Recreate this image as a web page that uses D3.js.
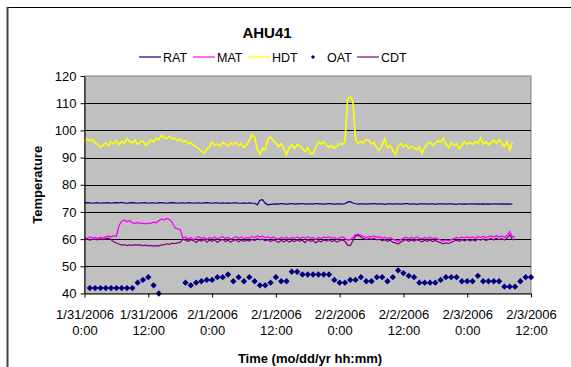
<!DOCTYPE html>
<html>
<head>
<meta charset="utf-8">
<script src="https://cdn.jsdelivr.net/npm/d3@7"></script>
<style>
  body { margin: 0; background: #fff; }
  svg { display: block; font-family: Arial, "Liberation Sans", sans-serif; }
</style>
</head>
<body>
<div id="chart"></div>
<script>
// readings every half hour starting 1/31/2006 0:00
const startTime = new Date(2006, 0, 31, 0, 0);
const stepHours = 0.5;

const ratValues = [
  73.3, 73.4, 73.3, 73.2, 73.3, 73.4, 73.2, 73.3, 73.3, 73.4, 73.2, 73.3, 73.4, 73.3, 73.5, 73.3,
  73.2, 73.3, 73.4, 73.3, 73.2, 73.3, 73.3, 73.4, 73.2, 73.3, 73.3, 73.2, 73.4, 73.3, 73.3, 73.2,
  73.3, 73.4, 73.3, 73.2, 73.3, 73.3, 73.2, 73.4, 73.3, 73.2, 73.3, 73.3, 73.2, 73.3, 73.4, 73.3,
  73.2, 73.3, 73.3, 73.2, 73.3, 73.2, 73.3, 73.2, 73.3, 73.3, 73.2, 73.2, 73.3, 73.2, 73.3, 73.2,
  73.2, 72.6, 74.3, 74.5, 73.2, 72.6, 72.8, 72.9, 73.0, 72.9, 73.1, 73.0, 72.9, 73.0, 73.1, 72.9,
  73.0, 73.0, 73.1, 72.9, 73.0, 73.0, 72.9, 73.1, 73.0, 73.0, 72.9, 73.0, 73.1, 73.0, 72.9, 73.0,
  73.0, 72.9, 73.0, 73.6, 73.8, 73.3, 73.0, 72.9, 73.0, 73.0, 72.9, 73.0, 73.0, 73.1, 72.9, 73.0,
  73.0, 72.8, 73.0, 73.0, 72.9, 73.0, 73.0, 72.9, 73.0, 73.1, 73.0, 72.9, 73.0, 72.8, 73.0, 73.0,
  73.0, 72.9, 73.0, 73.0, 72.8, 73.0, 73.0, 73.0, 72.9, 73.0, 73.0, 72.9, 72.8, 73.0, 72.9, 73.0,
  72.9, 73.0, 73.0, 72.9, 73.0, 72.9, 73.0, 72.9, 73.0, 72.9, 73.0, 73.0, 72.9, 73.0, 72.9, 73.0,
  72.9, 72.9
];

const matValues = [
  60.6, 60.2, 60.8, 60.4, 60.6, 60.2, 60.7, 60.4, 60.9, 61.2, 60.8, 61.3, 61.0, 65.0, 66.6, 67.0,
  66.4, 66.8, 66.0, 65.8, 66.1, 65.7, 65.9, 65.6, 65.9, 65.8, 66.2, 66.0, 66.8, 67.4, 67.0, 67.6,
  67.2, 66.2, 64.2, 63.8, 63.6, 60.4, 60.8, 60.0, 60.6, 59.8, 60.5, 60.9, 60.2, 60.7, 59.9, 60.6,
  60.3, 60.8, 60.1, 60.6, 60.9, 60.2, 60.7, 60.0, 60.5, 60.9, 60.3, 60.8, 60.2, 60.6, 60.4, 61.0,
  60.6, 61.2, 60.8, 61.1, 60.5, 60.9, 60.3, 60.8, 60.4, 60.0, 60.6, 60.2, 60.7, 60.1, 60.6, 60.3,
  60.8, 60.2, 60.7, 60.4, 60.9, 60.3, 60.6, 59.9, 60.6, 60.2, 60.8, 60.5, 60.9, 60.3, 60.6, 60.0,
  60.5, 60.8, 60.4, 59.6, 59.8, 60.6, 61.6, 61.8, 61.4, 61.0, 60.6, 61.0, 60.8, 61.2, 60.7, 60.9,
  60.4, 60.7, 60.2, 60.6, 60.0, 59.6, 59.2, 59.8, 60.4, 60.7, 60.2, 60.6, 60.3, 60.8, 60.4, 60.1,
  60.6, 60.3, 60.7, 60.2, 60.5, 60.0, 59.6, 59.3, 59.7, 59.4, 59.8, 60.2, 60.6, 60.3, 60.8, 60.4,
  60.9, 60.5, 60.8, 60.3, 61.0, 60.6, 61.1, 60.5, 60.9, 61.2, 60.7, 61.3, 60.8, 61.2, 60.7, 61.4,
  62.8, 60.8, 60.9
];

const hdtValues = [
  96.0, 96.8, 96.2, 96.6, 95.6, 94.8, 93.8, 94.6, 95.4, 94.4, 95.8, 95.0, 96.2, 94.6, 96.0, 95.2,
  97.0, 96.0, 95.4, 96.4, 94.8, 95.8, 96.0, 94.6, 95.2, 96.4, 95.8, 97.2, 96.6, 98.2, 97.4, 97.0,
  97.8, 96.8, 97.2, 96.2, 96.8, 95.8, 96.2, 95.0, 95.6, 94.4, 94.0, 93.2, 92.4, 91.6, 93.0, 94.0,
  95.6, 94.6, 95.0, 94.2, 95.6, 95.0, 94.2, 95.4, 94.8, 95.6, 94.4, 95.2, 93.8, 94.6, 96.2, 98.4,
  97.6, 93.0, 91.2, 93.4, 92.8, 96.8, 97.6, 96.2, 95.4, 94.0, 95.2, 93.2, 91.0, 93.6, 94.6, 93.4,
  94.8, 94.2, 93.4, 92.2, 93.6, 91.4, 91.6, 93.8, 95.6, 95.0, 95.8, 94.6, 93.8, 94.4, 93.4, 94.2,
  95.2, 94.8, 95.8, 111.6, 112.4, 110.6, 96.6, 95.2, 96.0, 95.4, 96.6, 96.2, 95.0, 95.6, 93.4, 92.8,
  94.6, 96.8, 93.6, 94.4, 92.6, 91.0, 94.2, 95.2, 94.0, 94.6, 93.4, 94.2, 93.6, 92.8, 94.0, 91.6,
  93.8, 95.0, 95.8, 94.4, 95.2, 96.2, 95.6, 97.2, 95.0, 93.6, 95.4, 94.4, 95.0, 93.2, 94.6, 95.8,
  94.8, 95.6, 94.8, 95.8, 95.2, 97.2, 95.0, 95.8, 94.6, 95.6, 96.4, 95.2, 96.6, 95.4, 94.0, 95.8,
  92.8, 95.6
];

const cdtValues = [
  59.8, 60.1, 59.6, 59.9, 60.0, 59.7, 60.1, 59.8, 60.2, 60.4, 59.8, 59.0, 58.6, 58.2, 57.8, 58.0,
  57.6, 57.9, 57.7, 58.0, 57.8, 57.9, 57.6, 57.8, 57.5, 57.7, 57.4, 57.6, 57.5, 57.9, 58.0, 58.3,
  58.1, 58.5, 58.3, 58.6, 58.8, 60.0, 59.6, 59.2, 59.8, 59.4, 58.8, 59.7, 59.3, 59.9, 58.9, 59.6,
  59.2, 59.8, 58.8, 59.5, 59.9, 59.1, 59.6, 58.9, 59.4, 59.8, 59.0, 59.7, 59.2, 59.6, 59.3, 59.9,
  59.5, 60.2, 59.7, 60.0, 59.4, 59.8, 59.1, 59.7, 59.3, 58.8, 59.5, 59.0, 59.6, 58.9, 59.5, 59.1,
  59.7, 59.2, 59.6, 58.7, 59.8, 59.2, 59.5, 58.6, 59.4, 59.0, 59.7, 59.3, 59.8, 59.1, 59.5, 58.9,
  59.4, 59.7, 59.2, 57.8, 57.6, 59.4, 61.2, 61.4, 60.8, 60.2, 59.8, 60.2, 59.9, 60.3, 59.7, 60.0,
  59.4, 59.8, 59.2, 59.6, 58.9, 58.6, 58.2, 58.9, 59.5, 59.8, 59.2, 59.7, 59.3, 59.8, 59.4, 59.0,
  59.6, 59.2, 59.7, 59.1, 59.5, 59.0, 58.7, 58.3, 58.6, 58.4, 58.8, 59.3, 59.6, 59.2, 59.8, 59.4,
  59.9, 59.4, 59.8, 59.3, 60.0, 59.6, 60.1, 59.5, 59.9, 60.2, 59.7, 60.3, 59.8, 60.2, 59.7, 60.4,
  61.6, 59.8, 59.9
];

// outside air temperature, hourly, hours after 1/31/2006 0:00
const oatHours = [
  1, 2, 3, 4, 5, 6, 7, 8, 9, 10, 11, 12, 13, 14,
  19, 20, 21, 22, 23, 24, 25, 26, 27, 28, 29, 30, 31, 32, 33, 34, 35, 36, 37, 38, 39, 40,
  41, 42, 43, 44, 45, 46, 47, 48, 49, 50, 51, 52, 53, 54, 55, 56, 57, 58, 59, 60,
  61, 62, 63, 64, 65, 66, 67, 68, 69, 70, 71, 72, 73, 74, 75, 76, 77, 78, 79, 80,
  81, 82, 83, 84
];
const oatValues = [
  42, 42, 42, 42, 42, 42, 42, 42, 42, 44, 45, 46, 43, 40,
  44, 43, 44, 44.5, 45, 45, 46, 46, 47, 44.5, 46, 44.5, 46, 44.5, 43, 43, 44, 46, 44.5, 44.5, 48, 48,
  47, 47, 47, 47, 47, 47, 45, 44, 44, 45, 45, 46, 44.5, 44.5, 46, 46, 44.5, 46, 48.5, 47.5,
  46.5, 46, 44, 44, 44, 44, 45, 46, 46, 46, 44.5, 44.5, 44.5, 46.5, 44.5, 44.5, 44.5, 44.5, 42.5, 42.5,
  42.5, 44.5, 46, 46
];

const yTicks = [40, 50, 60, 70, 80, 90, 100, 110, 120];
const legendNames = ["RAT", "MAT", "HDT", "OAT", "CDT"];

const width = 571;
const height = 367;
const margin = { top: 76, right: 40, bottom: 73.5, left: 84.5 };

const colors = { RAT: "#000080", MAT: "#FF00FF", HDT: "#FFFF00", OAT: "#000080", CDT: "#800080" };

const hourToDate = h => new Date(startTime.getTime() + h * 3600 * 1000);

const svg = d3.select("#chart")
  .append("svg")
  .attr("width", width)
  .attr("height", height);

svg.append("rect").attr("width", width).attr("height", height).attr("fill", "#fff");

// chart frame (only top and left edges are inside the picture)
svg.append("line").attr("x1", 7).attr("x2", width).attr("y1", 7.5).attr("y2", 7.5)
  .attr("stroke", "#000").attr("stroke-width", 1);
svg.append("line").attr("x1", 7.5).attr("x2", 7.5).attr("y1", 7).attr("y2", height)
  .attr("stroke", "#404040").attr("stroke-width", 2);

const x = d3.scaleTime()
  .domain([startTime, hourToDate(84)])
  .range([margin.left, width - margin.right]);

const y = d3.scaleLinear()
  .domain([40, 120])
  .range([height - margin.bottom, margin.top]);

// plot area
svg.append("rect")
  .attr("x", x.range()[0])
  .attr("y", y(120))
  .attr("width", x.range()[1] - x.range()[0])
  .attr("height", y(40) - y(120))
  .attr("fill", "#C0C0C0")
  .attr("stroke", "#808080")
  .attr("stroke-width", 1);

svg.append("g")
  .selectAll("line")
  .data(yTicks.filter(t => t > 40 && t < 120))
  .join("line")
    .attr("x1", x.range()[0])
    .attr("x2", x.range()[1])
    .attr("y1", d => Math.round(y(d)) + 0.5)
    .attr("y2", d => Math.round(y(d)) + 0.5)
    .attr("stroke", "#000")
    .attr("stroke-width", 1);

// series lines
const lineFor = values => d3.line()
  .x((d, i) => x(hourToDate(i * stepHours)))
  .y(d => y(d))(values);

const series = [
  { name: "RAT", values: ratValues, w: 1.2 },
  { name: "MAT", values: matValues, w: 1.3 },
  { name: "HDT", values: hdtValues, w: 1.6 },
  { name: "CDT", values: cdtValues, w: 1.2 }
];

const drawLine = s => svg.append("path")
  .attr("d", lineFor(s.values))
  .attr("fill", "none")
  .attr("stroke", colors[s.name])
  .attr("stroke-width", s.w)
  .attr("stroke-linejoin", "miter");

drawLine(series[0]);
drawLine(series[1]);
drawLine(series[2]);

const diamond = d3.symbol().type(d3.symbolSquare).size(20);
svg.append("g")
  .selectAll("path")
  .data(oatHours)
  .join("path")
    .attr("d", diamond)
    .attr("transform", (d, i) => `translate(${x(hourToDate(d))},${y(oatValues[i])}) rotate(45)`)
    .attr("fill", colors.OAT);

drawLine(series[3]);

// axes
const fmtDate = d3.timeFormat("%-m/%-d/%Y");
const fmtTime = d3.timeFormat("%-H:%M");

const xAxis = g => {
  g.attr("transform", `translate(0, ${y(40)})`)
    .call(d3.axisBottom(x).ticks(d3.timeHour.every(12)).tickSizeOuter(0).tickSizeInner(4).tickFormat(""))
    .call(g => g.select(".domain").attr("stroke", "#000"));
  g.selectAll(".tick text").remove();
  const t = g.selectAll(".tick").append("text")
    .attr("fill", "#000")
    .attr("text-anchor", "middle")
    .attr("font-size", 13);
  t.append("tspan").attr("x", 0).attr("y", 25).text(d => fmtDate(d));
  t.append("tspan").attr("x", 0).attr("y", 41).text(d => fmtTime(d));
};

const yAxis = g => {
  g.attr("transform", `translate(${x.range()[0]}, 0)`)
    .call(d3.axisLeft(y).tickValues(yTicks).tickSizeOuter(0).tickSizeInner(4).tickPadding(4))
    .attr("font-size", 13)
    .attr("font-family", null);
  g.selectAll(".tick text").attr("fill", "#000");
};

svg.append("g").call(xAxis);
svg.append("g").call(yAxis);

// titles
svg.append("text")
  .attr("x", 267).attr("y", 38)
  .attr("text-anchor", "middle")
  .attr("font-size", 15).attr("font-weight", "bold")
  .text("AHU41");

svg.append("text")
  .attr("transform", `translate(42, ${(y(40) + y(120)) / 2}) rotate(-90)`)
  .attr("text-anchor", "middle")
  .attr("font-size", 13).attr("font-weight", "bold")
  .text("Temperature");

svg.append("text")
  .attr("x", 310).attr("y", 363)
  .attr("text-anchor", "middle")
  .attr("font-size", 13).attr("font-weight", "bold")
  .text("Time (mo/dd/yr hh:mm)");

// legend
const legendX = [139, 193, 248, 310, 357];
const legend = svg.append("g").attr("font-size", 12.5);
legendNames.forEach((name, i) => {
  const g = legend.append("g").attr("transform", `translate(${legendX[i]}, 57)`);
  if (name === "OAT") {
    g.append("path").attr("d", d3.symbol().type(d3.symbolSquare).size(9))
      .attr("transform", "translate(3,0) rotate(45)").attr("fill", colors[name]);
    g.append("text").attr("x", 17).attr("y", 4.5).text(name);
  } else {
    g.append("line").attr("x1", 0).attr("x2", 22).attr("y1", 0).attr("y2", 0)
      .attr("stroke", colors[name]).attr("stroke-width", 1.2);
    g.append("text").attr("x", 24).attr("y", 4.5).text(name);
  }
});
</script>
</body>
</html>
